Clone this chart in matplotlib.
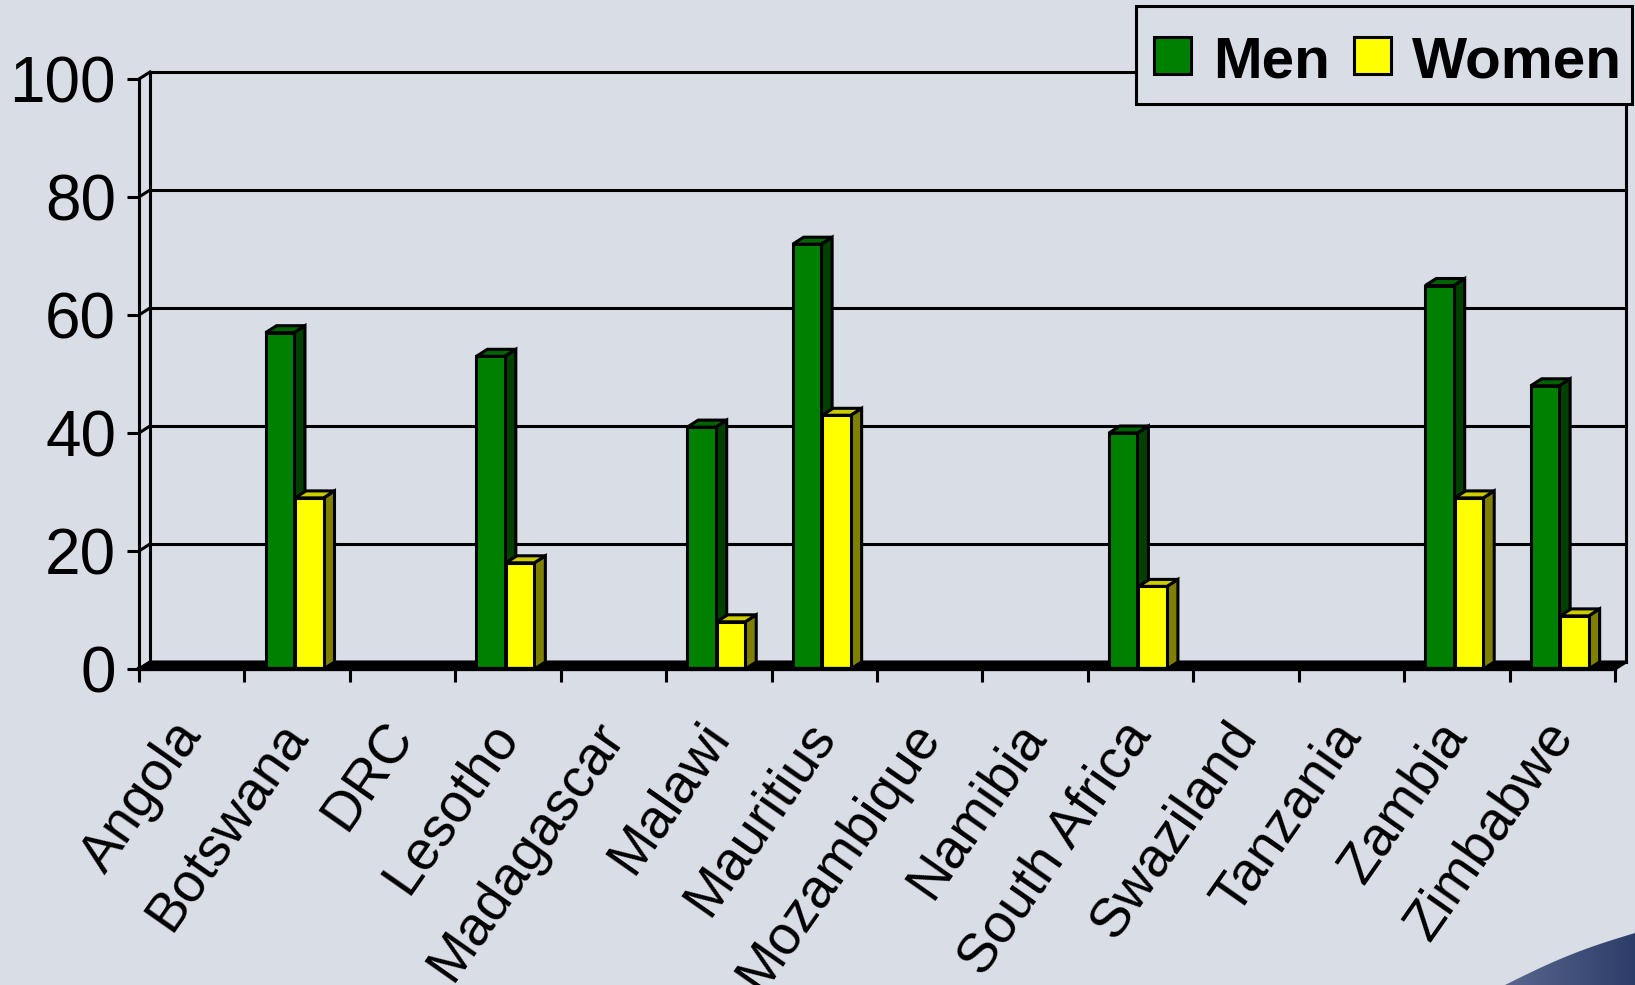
import numpy as np
import matplotlib.pyplot as plt
from matplotlib.patches import Polygon, Rectangle
from matplotlib.lines import Line2D
from matplotlib.colors import LinearSegmentedColormap

countries = ["Angola", "Botswana", "DRC", "Lesotho", "Madagascar", "Malawi",
             "Mauritius", "Mozambique", "Namibia", "South Africa", "Swaziland",
             "Tanzania", "Zambia", "Zimbabwe"]
men = [np.nan, 57, np.nan, 53, np.nan, 41, 72, np.nan, np.nan, 40, np.nan, np.nan, 65, 48]
women = [np.nan, 29, np.nan, 18, np.nan, 8, 43, np.nan, np.nan, 14, np.nan, np.nan, 29, 9]
yticks = [0, 20, 40, 60, 80, 100]
series_names = ["Men", "Women"]

BG = "#D8DDE6"
W, H, DPI = 1635, 985, 100
plt.rcParams["font.family"] = ["Liberation Sans", "DejaVu Sans"]

fig = plt.figure(figsize=(W / DPI, H / DPI), dpi=DPI, facecolor=BG)

# front plane of the 3d box, in pixels
x0, x1, y_top, y_bot = 139, 1615, 79, 669
ax = fig.add_axes([x0 / W, (H - y_bot) / H, (x1 - x0) / W, (y_bot - y_top) / H])
ax.set_facecolor("none")
n = len(countries)
ax.set_xlim(0, n)
ax.set_ylim(0, 100)

# depth offset of the 3d look, converted to data units
dx = 11 / ((x1 - x0) / n)
dy = 7 / ((y_bot - y_top) / 100)

LW = 2.2
kw = dict(color="black", lw=LW, clip_on=False, solid_capstyle="projecting")

# back wall: gridlines and edges
for v in yticks:
    ax.add_line(Line2D([dx, n + dx], [v + dy, v + dy], zorder=1, **kw))
    ax.add_line(Line2D([0, dx], [v, v + dy], zorder=1, **kw))
ax.add_line(Line2D([dx, dx], [dy, 100 + dy], zorder=1, **kw))
ax.add_line(Line2D([n + dx, n + dx], [dy, 100 + dy], zorder=1, **kw))

# floor
ax.add_patch(Polygon([(0, 0), (n, 0), (n + dx, dy), (dx, dy)], closed=True,
                     facecolor="black", edgecolor="black", lw=LW, clip_on=False, zorder=2))

colors = [("#008000", "#004000", "#006400"),
          ("#FFFF00", "#808000", "#CCCC00")]
series = [(men, 0.2, colors[0]), (women, 0.48, colors[1])]
bw = 0.27
for i in range(n):
    for vals, off, (front, side, top) in series:
        v = vals[i]
        if np.isnan(v):
            continue
        a, b = i + off, i + off + bw
        pe = dict(edgecolor="black", lw=LW, joinstyle="miter", zorder=3)
        ax.add_patch(Polygon([(b, 0), (b + dx, dy), (b + dx, v + dy), (b, v)],
                             closed=True, facecolor=side, **pe))
        ax.add_patch(Polygon([(a, v), (b, v), (b + dx, v + dy), (a + dx, v + dy)],
                             closed=True, facecolor=top, **pe))
        ax.bar(a, v, width=bw, bottom=0, align="edge", color=front,
               edgecolor="black", lw=LW, zorder=3)

for s in ["top", "right"]:
    ax.spines[s].set_visible(False)
ax.spines["left"].set_linewidth(LW)
ax.spines["bottom"].set_linewidth(LW * 1.4)
ax.spines["bottom"].set_zorder(4)

ax.set_yticks(yticks)
ax.tick_params(axis="y", length=8.5, width=LW, pad=8, labelsize=46)
ax.set_xticks(np.arange(n) + 0.5)
ax.set_xticks(np.arange(n + 1), minor=True)
ax.set_xticklabels(countries, rotation=55, ha="right", va="center",
                   rotation_mode="anchor", fontsize=39.5)
ax.tick_params(axis="x", which="major", length=0, pad=42)
ax.tick_params(axis="x", which="minor", length=9, width=LW)

# overlay in pixel coordinates for the legend box and the corner swoosh
over = fig.add_axes([0, 0, 1, 1], zorder=10)
over.set_xlim(0, W)
over.set_ylim(H, 0)
over.axis("off")
over.patch.set_alpha(0)

over.add_patch(Rectangle((1136, 6), 496, 98, facecolor=BG, edgecolor="black", lw=LW))
for name, (front, _, _), sx, tx in zip(series_names, colors, [1154, 1354], [1213, 1412]):
    over.add_patch(Rectangle((sx, 37), 37, 37, facecolor=front, edgecolor="black", lw=LW))
    over.text(tx, 77, name, fontsize=42, fontweight="bold", va="baseline", ha="left")

t = np.linspace(0, 1, 40)
cx = 1505 + (W - 1505) * t
cy = 985 - 52 * t - 4 * np.sin(np.pi * t)
pts = np.column_stack([np.r_[cx, W], np.r_[cy, H]])
clip = Polygon(pts, closed=True, facecolor="none", edgecolor="none")
over.add_patch(clip)
grad = np.linspace(0, 1, 256).reshape(1, -1)
cmap = LinearSegmentedColormap.from_list("swoosh", ["#5A678D", "#2C3D69"])
im = over.imshow(grad, extent=[1505, W, H, 925], cmap=cmap, aspect="auto")
im.set_clip_path(clip)
over.set_xlim(0, W)
over.set_ylim(H, 0)

fig.savefig("out.png", dpi=DPI, facecolor=BG)
